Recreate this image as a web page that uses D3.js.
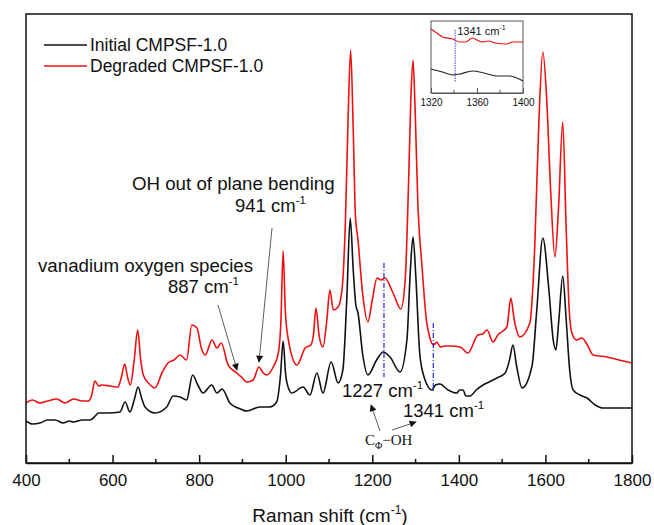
<!DOCTYPE html>
<html>
<head>
<meta charset="utf-8">
<style>
body { margin: 0; background: #fff; }
text { font-family: "Liberation Sans", Arial, sans-serif; fill: #111; }
.serif { font-family: "Liberation Serif", "Times New Roman", serif; }
</style>
<script src="https://cdn.jsdelivr.net/npm/d3@7"></script>
</head>
<body>
<div id="chart"></div>
<script>
// Raman spectra, intensity in arbitrary units
var initialWn = [400,415,432,450,467,486,500,509,530,548,560,567,590,617,629,640,650,659,667,675,698,725,740,756,771,785,797,809,829,841,853,871,890,910,940,963,979,988,994,1000,1008,1014,1040,1056,1072,1086,1105,1121,1132,1141,1149,1156,1162,1167,1178,1190,1210,1225,1241,1264,1280,1288,1294,1301,1309,1317,1338,1346,1356,1375,1395,1402,1410,1416,1426,1440,1456,1470,1488,1507,1517,1525,1533,1546,1569,1580,1594,1608,1618,1624,1631,1640,1648,1656,1664,1680,1696,1715,1733,1760,1800];
var initialI = [42,39,40,43,43,40,42,41,43,43,47,50,50,51,61,51,63,76,65,56,50,56,67,66,63,88,78,70,78,70,74,60,55,52,56,56,61,88,122,88,73,70,76,68,90,70,101,80,93,163,245,193,158,150,108,88,103,111,106,91,123,193,226,183,113,90,73,78,79,73,70,73,73,67,67,73,78,81,85,90,103,118,98,75,97,153,225,173,123,113,143,187,143,93,73,68,65,58,55,55,55];

var degradedWn = [400,415,432,450,471,490,510,530,544,552,559,568,575,595,612,620,628,635,641,650,658,665,671,685,698,715,728,742,756,771,783,795,805,814,830,841,851,867,887,900,910,925,938,948,956,970,983,989,994,999,1005,1026,1045,1058,1064,1070,1077,1086,1095,1102,1110,1121,1130,1138,1144,1150,1156,1161,1167,1178,1190,1200,1211,1220,1229,1248,1266,1276,1284,1289,1294,1299,1305,1315,1325,1333,1342,1349,1357,1368,1380,1403,1421,1444,1455,1465,1479,1490,1511,1520,1528,1541,1564,1575,1585,1594,1603,1612,1622,1630,1640,1648,1655,1661,1672,1684,1697,1710,1742,1770,1800];
var degradedI = [60,63,60,62,64,60,64,62,62,68,82,77,78,77,76,85,99,85,78,103,133,103,88,79,75,91,100,103,108,103,138,135,115,108,123,115,120,98,90,85,81,83,96,90,88,95,110,143,212,153,126,98,115,118,128,155,128,116,143,173,153,156,173,243,343,413,333,248,223,168,141,163,185,183,185,170,154,183,283,363,403,353,263,196,143,125,118,121,116,117,117,116,110,128,129,133,121,128,136,165,143,126,140,213,343,411,363,273,206,253,341,233,153,130,123,125,118,108,106,103,100];

// inset, 1320-1400 cm-1
var insetWn = [1320,1325,1330,1339,1345,1350,1356,1360,1364,1370,1376,1386,1391,1400];
var insetDegraded = [64,60,56,54,51,51,55,53,51,52,50,49,51,51];
var insetInitWn = [1320,1330,1339,1345,1356,1366,1377,1388,1400];
var insetInitial = [24,21,18,19,22,20,17,17,12];

var xTicks = [400,600,800,1000,1200,1400,1600,1800];
var xMinor = [500,700,900,1100,1300,1500,1700];
var insetTicks = [1320,1360,1400];
var insetMinor = [1340,1380];
var markers = [1227,1341];

var width = 654, height = 525;
var mLeft = 26, mRight = 632, mTop = 14, mBottom = 463;

var svg = d3.select("#chart").append("svg")
	.attr("width", width)
	.attr("height", height);

var x = d3.scaleLinear().domain([400,1800]).range([mLeft,mRight]);
var y = d3.scaleLinear().domain([0,449]).range([mBottom,mTop]);

var line = d3.line()
	.x(function(d) { return x(d[0]); })
	.y(function(d) { return y(d[1]); })
	.curve(d3.curveMonotoneX);

svg.append("path")
	.datum(d3.zip(initialWn, initialI))
	.attr("d", line)
	.attr("fill", "none")
	.attr("stroke", "#111")
	.attr("stroke-width", 1.6);

svg.append("path")
	.datum(d3.zip(degradedWn, degradedI))
	.attr("d", line)
	.attr("fill", "none")
	.attr("stroke", "#f01010")
	.attr("stroke-width", 1.6);

// blue marker lines at 1227 and 1341
var markTop = [200, 140], markBot = [86, 72];
svg.selectAll(".mark").data(markers).enter().append("line")
	.attr("class", "mark")
	.attr("x1", function(d) { return x(d); })
	.attr("x2", function(d) { return x(d); })
	.attr("y1", function(d, i) { return y(markTop[i]); })
	.attr("y2", function(d, i) { return y(markBot[i]); })
	.attr("stroke", "#2424e6")
	.attr("stroke-width", 1.2)
	.attr("stroke-dasharray", "5,2,1,2");

// frame
svg.append("rect")
	.attr("x", mLeft).attr("y", mTop)
	.attr("width", mRight-mLeft).attr("height", mBottom-mTop)
	.attr("fill", "none").attr("stroke", "#111").attr("stroke-width", 1.5);

// x axis
var xAxis = svg.append("g")
	.attr("transform", "translate(0," + mBottom + ")")
	.call(d3.axisBottom(x).tickValues(xTicks).tickFormat(d3.format("d"))
		.tickSizeInner(-8).tickSizeOuter(0).tickPadding(11));
xAxis.select(".domain").attr("stroke", "#111").attr("stroke-width", 1.5);
xAxis.selectAll(".tick line").attr("stroke", "#111").attr("stroke-width", 1.5);
xAxis.selectAll("text").attr("font-size", 17).attr("font-family", "Liberation Sans, Arial, sans-serif").attr("fill", "#111");

svg.append("g").selectAll("line").data(xMinor).enter().append("line")
	.attr("x1", function(d) { return x(d); })
	.attr("x2", function(d) { return x(d); })
	.attr("y1", mBottom).attr("y2", mBottom-4)
	.attr("stroke", "#111").attr("stroke-width", 1.5);

var title = svg.append("text")
	.attr("x", 330).attr("y", 522)
	.attr("text-anchor", "middle")
	.attr("font-size", 19);
title.append("tspan").text("Raman shift (cm");
title.append("tspan").attr("dy", -8).attr("font-size", 12).text("-1");
title.append("tspan").attr("dy", 8).text(")");

// legend
var legend = [["Initial CMPSF-1.0", "#111"], ["Degraded CMPSF-1.0", "#f01010"]];
legend.forEach(function(d, i) {
	svg.append("line")
		.attr("x1", 44).attr("x2", 87)
		.attr("y1", 45 + i*21).attr("y2", 45 + i*21)
		.attr("stroke", d[1]).attr("stroke-width", 1.6);
	svg.append("text")
		.attr("x", 90).attr("y", 51 + i*21)
		.attr("font-size", 17.5)
		.text(d[0]);
});

// labels with superscript
function label(tx, ty, main) {
	var t = svg.append("text")
		.attr("x", tx).attr("y", ty)
		.attr("font-size", 18.5);
	t.append("tspan").text(main);
	t.append("tspan").attr("dy", -8).attr("font-size", 11.5).text("-1");
	return t;
}

svg.append("text").attr("x", 132).attr("y", 190).attr("font-size", 18.7).text("OH out of plane bending");
label(235, 212, "941 cm");
svg.append("text").attr("x", 38).attr("y", 272).attr("font-size", 18.7).text("vanadium oxygen species");
label(168, 293, "887 cm");
label(342, 397, "1227 cm");
label(403, 417, "1341 cm");

var cl = svg.append("text").attr("class", "serif").attr("x", 365).attr("y", 445).attr("font-size", 15);
cl.append("tspan").text("C");
cl.append("tspan").attr("dy", 4).attr("font-size", 10).text("Φ");
cl.append("tspan").attr("dy", -4).text("−OH");

// arrows
var defs = svg.append("defs");
defs.append("marker")
	.attr("id", "arr")
	.attr("viewBox", "0 0 10 10")
	.attr("refX", 9).attr("refY", 5)
	.attr("markerWidth", 9).attr("markerHeight", 7)
	.attr("markerUnits", "userSpaceOnUse")
	.attr("orient", "auto")
	.append("path").attr("d", "M0,0 L10,5 L0,10 z").attr("fill", "#111");

var arrows = [[272,228,259,362],[218,305,237,370],[380,431,371,405],[392,430,416,422]];
svg.selectAll(".arrow").data(arrows).enter().append("line")
	.attr("class", "arrow")
	.attr("x1", function(d) { return d[0]; })
	.attr("y1", function(d) { return d[1]; })
	.attr("x2", function(d) { return d[2]; })
	.attr("y2", function(d) { return d[3]; })
	.attr("stroke", "#333").attr("stroke-width", 0.8)
	.attr("marker-end", "url(#arr)");

// inset
var ix = d3.scaleLinear().domain([1320,1400]).range([431,523]);
var iy = d3.scaleLinear().domain([0,72]).range([93,21]);
var iline = d3.line()
	.x(function(d) { return ix(d[0]); })
	.y(function(d) { return iy(d[1]); })
	.curve(d3.curveMonotoneX);

var inset = svg.append("g");
inset.append("rect").attr("x", 431).attr("y", 21).attr("width", 92).attr("height", 72)
	.attr("fill", "#fff").attr("stroke", "#555").attr("stroke-width", 1);
inset.append("path").datum(d3.zip(insetWn, insetDegraded)).attr("d", iline)
	.attr("fill", "none").attr("stroke", "#f01010").attr("stroke-width", 1.1);
inset.append("path").datum(d3.zip(insetInitWn, insetInitial)).attr("d", iline)
	.attr("fill", "none").attr("stroke", "#222").attr("stroke-width", 1.1);
inset.append("line")
	.attr("x1", ix(1341)).attr("x2", ix(1341))
	.attr("y1", iy(63)).attr("y2", iy(11))
	.attr("stroke", "#4040e0").attr("stroke-width", 1).attr("stroke-dasharray", "1.5,1");
var il = inset.append("text").attr("x", ix(1341) + 2).attr("y", 35).attr("font-size", 11);
il.append("tspan").text("1341 cm");
il.append("tspan").attr("dy", -5).attr("font-size", 7).text("-1");

var iaxis = inset.append("g")
	.attr("transform", "translate(0,93)")
	.call(d3.axisBottom(ix).tickValues(insetTicks).tickFormat(d3.format("d"))
		.tickSizeInner(-5).tickSizeOuter(0).tickPadding(6));
iaxis.select(".domain").attr("stroke", "#555");
iaxis.selectAll(".tick line").attr("stroke", "#555");
iaxis.selectAll("text").attr("font-size", 10).attr("font-family", "Liberation Sans, Arial, sans-serif").attr("fill", "#222");
inset.append("g").selectAll("line").data(insetMinor).enter().append("line")
	.attr("x1", function(d) { return ix(d); })
	.attr("x2", function(d) { return ix(d); })
	.attr("y1", 93).attr("y2", 90)
	.attr("stroke", "#555");
</script>
</body>
</html>
